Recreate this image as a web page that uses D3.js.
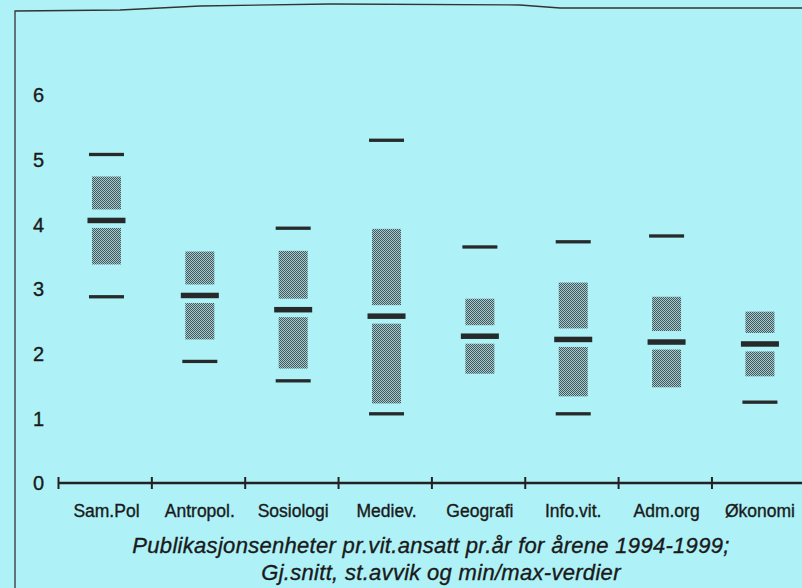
<!DOCTYPE html>
<html>
<head>
<meta charset="utf-8">
<script src="https://cdn.jsdelivr.net/npm/d3@7"></script>
<style>
  html, body { margin: 0; padding: 0; background: #aef2f8; }
  svg { display: block; }
  text { font-family: "Liberation Sans", Arial, Helvetica, sans-serif; fill: #1a1a1a; stroke: #1a1a1a; stroke-width: 0.35px; }
</style>
</head>
<body>
<svg id="chart" width="802" height="588"></svg>
<script>
// ---- data ----
const categories = ["Sam.Pol", "Antropol.", "Sosiologi", "Mediev.", "Geografi", "Info.vit.", "Adm.org", "Økonomi"];
const meanValues = [4.06, 2.90, 2.68, 2.58, 2.27, 2.22, 2.18, 2.15];
const sdValues   = [0.68, 0.68, 0.91, 1.35, 0.58, 0.88, 0.70, 0.50];
const maxValues  = [5.08, null, 3.94, 5.30, 3.65, 3.73, 3.82, null];
const minValues  = [2.88, 1.88, 1.58, 1.07, null, 1.07, null, 1.25];
const yTicks = [0, 1, 2, 3, 4, 5, 6];
const captionLines = [
  "Publikasjonsenheter pr.vit.ansatt pr.år for årene 1994-1999;",
  "Gj.snitt, st.avvik og min/max-verdier"
];

const rows = categories.map((c, i) => ({
  cat: c, mean: meanValues[i], sd: sdValues[i], max: maxValues[i], min: minValues[i]
}));

const svg = d3.select("#chart");
const W = 802, H = 588;

svg.append("rect").attr("width", W).attr("height", H).attr("fill", "#aef2f8");

// halftone pattern for the st.avvik boxes
const defs = svg.append("defs");
const pat = defs.append("pattern").attr("id", "dots")
  .attr("width", 2).attr("height", 2).attr("patternUnits", "userSpaceOnUse");
pat.append("rect").attr("width", 2).attr("height", 2).attr("fill", "#a4cdd1");
pat.append("rect").attr("x", 0).attr("y", 0).attr("width", 1).attr("height", 1).attr("fill", "#445659");
pat.append("rect").attr("x", 1).attr("y", 1).attr("width", 1).attr("height", 1).attr("fill", "#445659");

// frame (scanned page border)
svg.append("path")
  .attr("d", "M15,588 L15,11 L120,10 L200,6 L330,4 L520,5 L560,8 L802,8")
  .attr("fill", "none").attr("stroke", "#333").attr("stroke-width", 1.3);

// scales
const x = d3.scaleBand().domain(categories).range([58.5, 805.3]).paddingInner(0).paddingOuter(0);
const bw = x.bandwidth();
const cx = c => x(c) + bw / 2 + 1.3;
const y = d3.scaleLinear().domain([0, 6]).range([483, 95]);

// y tick labels
svg.append("g").selectAll("text").data(yTicks).join("text")
  .attr("x", 44).attr("y", d => y(d)).attr("dy", "0.36em")
  .attr("text-anchor", "end").attr("font-size", 20).text(d => d);

// x axis
const xAxis = svg.append("g");
xAxis.append("line").attr("x1", x.range()[0]).attr("x2", W).attr("y1", y(0)).attr("y2", y(0))
  .attr("stroke", "#222").attr("stroke-width", 2.4);
xAxis.selectAll("line.tick").data(categories).join("line").attr("class", "tick")
  .attr("x1", d => x(d)).attr("x2", d => x(d))
  .attr("y1", y(0) - 6).attr("y2", y(0) + 6)
  .attr("stroke", "#222").attr("stroke-width", 2);
xAxis.selectAll("text").data(categories).join("text")
  .attr("x", d => cx(d)).attr("y", 517)
  .attr("text-anchor", "middle").attr("font-size", 17.5).text(d => d);

// marks
const boxW = 29, meanW = 38, meanH = 5.5, dashW = 35, dashH = 3.3;
const gapUp = 11, gapDown = 7.5;
const g = svg.append("g");

// upper st.avvik box
g.selectAll("rect.up").data(rows).join("rect").attr("class", "up")
  .attr("x", d => cx(d.cat) - boxW / 2).attr("width", boxW)
  .attr("y", d => y(d.mean + d.sd))
  .attr("height", d => Math.max(0, y(d.mean) - gapUp - y(d.mean + d.sd)))
  .attr("fill", "url(#dots)");
// lower st.avvik box
g.selectAll("rect.down").data(rows).join("rect").attr("class", "down")
  .attr("x", d => cx(d.cat) - boxW / 2).attr("width", boxW)
  .attr("y", d => y(d.mean) + gapDown)
  .attr("height", d => Math.max(0, y(d.mean - d.sd) - y(d.mean) - gapDown))
  .attr("fill", "url(#dots)");
// mean bar
g.selectAll("rect.mean").data(rows).join("rect").attr("class", "mean")
  .attr("x", d => cx(d.cat) - meanW / 2).attr("width", meanW)
  .attr("y", d => y(d.mean) - meanH / 2).attr("height", meanH)
  .attr("fill", "#262a2b");
// max dash
g.selectAll("rect.max").data(rows.filter(d => d.max != null)).join("rect").attr("class", "max")
  .attr("x", d => cx(d.cat) - dashW / 2).attr("width", dashW)
  .attr("y", d => y(d.max) - dashH / 2).attr("height", dashH)
  .attr("fill", "#262a2b");
// min dash
g.selectAll("rect.min").data(rows.filter(d => d.min != null)).join("rect").attr("class", "min")
  .attr("x", d => cx(d.cat) - dashW / 2).attr("width", dashW)
  .attr("y", d => y(d.min) - dashH / 2).attr("height", dashH)
  .attr("fill", "#262a2b");

// caption
svg.append("g").selectAll("text").data(captionLines).join("text")
  .attr("x", (d, i) => i === 0 ? 431 : 441).attr("y", (d, i) => 553 + i * 26.5)
  .attr("text-anchor", "middle").attr("font-size", 22).attr("font-style", "italic")
  .attr("letter-spacing", 0.3)
  .text(d => d);
</script>
</body>
</html>
